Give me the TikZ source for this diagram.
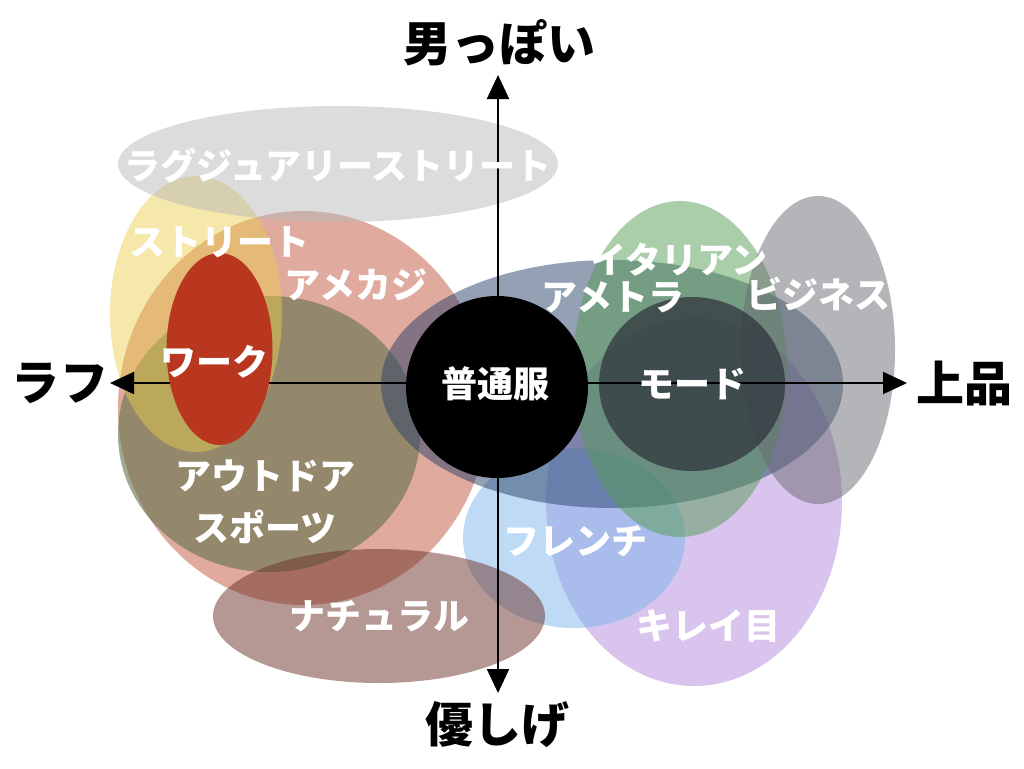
\documentclass[tikz,border=0pt]{standalone}
\usepackage{fontspec}
\setmainfont{Noto Sans CJK JP}
\usetikzlibrary{arrows.meta}
\definecolor{cSal}{RGB}{193,85,61}
\definecolor{cOli}{RGB}{97,113,75}
\definecolor{cYel}{RGB}{234,206,74}
\definecolor{cGry}{RGB}{185,185,185}
\definecolor{cPur}{RGB}{177,137,217}
\definecolor{cFre}{RGB}{125,181,235}
\definecolor{cNat}{RGB}{107,49,41}
\definecolor{cTra}{RGB}{41,65,105}
\definecolor{cIta}{RGB}{85,155,85}
\definecolor{cBiz}{RGB}{105,107,115}
\definecolor{cMod}{RGB}{48,54,60}
\definecolor{cWrk}{RGB}{185,54,31}
\tikzset{
  blob/.style={fill opacity=0.5},
  lbl/.style={text=white, inner sep=0pt, font=\bfseries\fontsize{36}{52}\selectfont, align=center},
  axlbl/.style={text=black, inner sep=0pt, font=\bfseries\fontsize{48}{52}\selectfont},
  axis/.style={line width=2pt, draw=black, -{Triangle[length=24pt,width=22pt]}}
}
\begin{document}
\begin{tikzpicture}[x=1pt,y=-1pt]
\useasboundingbox (0,0) rectangle (1024,768);
% left group
\fill[cSal, blob] (303,408) ellipse [x radius=185pt, y radius=197pt];
\fill[cOli, fill opacity=0.6] (269,434) ellipse [x radius=151pt, y radius=138pt];
\fill[cYel, fill opacity=0.47] (196,314) ellipse [x radius=86pt, y radius=138pt];
\fill[cGry, blob] (338,164) ellipse [x radius=220pt, y radius=58pt];
% right group
\fill[cPur, blob] (694,502) ellipse [x radius=148pt, y radius=184pt];
\fill[cFre, blob] (574,538) ellipse [x radius=111pt, y radius=90pt];
\fill[cNat, blob] (379,616) ellipse [x radius=166pt, y radius=67pt];
\fill[cTra, blob] (612,384) ellipse [x radius=231pt, y radius=124pt];
\fill[cIta, blob] (680,369) ellipse [x radius=107pt, y radius=168pt];
\fill[cBiz, blob] (818,350) ellipse [x radius=77pt, y radius=154pt];
\fill[cMod, fill opacity=0.75] (692,384) ellipse [x radius=93pt, y radius=87pt];
% axes
\coordinate (c) at (498,383);
\coordinate (top) at (498,75);
\coordinate (bot) at (498,693);
\coordinate (lft) at (110,383);
\coordinate (rgt) at (907,383);
\draw[axis] (c) -- (top);
\draw[axis] (c) -- (bot);
\draw[axis] (c) -- (lft);
\draw[axis] (c) -- (rgt);
% opaque shapes
\fill[cWrk] (219.5,349) ellipse [x radius=53pt, y radius=96pt];
\fill[black] (497,387) circle [radius=91pt];
% labels
\node[lbl] (lux) at (338,165) {ラグジュアリーストリート};
\node[lbl] (str) at (219,242) {ストリート};
\node[lbl] (ame) at (356,285) {アメカジ};
\node[lbl] (wrk) at (214,362) {ワーク};
\node[lbl] (out) at (265,502) {アウトドア\\スポーツ};
\node[lbl] (nat) at (379,616) {ナチュラル};
\node[lbl] (fut) at (495,384) {普通服};
\node[lbl] (ita) at (679,260) {イタリアン};
\node[lbl] (tra) at (613,297) {アメトラ};
\node[lbl] (biz) at (818,294) {ビジネス};
\node[lbl] (mod) at (692,384) {モード};
\node[lbl] (fre) at (575,541) {フレンチ};
\node[lbl] (kir) at (708,626) {キレイ目};
\node[axlbl] (otoko) at (499,43) {男っぽい};
\node[axlbl] (yasa) at (497,725) {優しげ};
\node[axlbl] (jou) at (964,384) {上品};
\node[axlbl] (rafu) at (60,383) {ラフ};
\end{tikzpicture}
\end{document}
